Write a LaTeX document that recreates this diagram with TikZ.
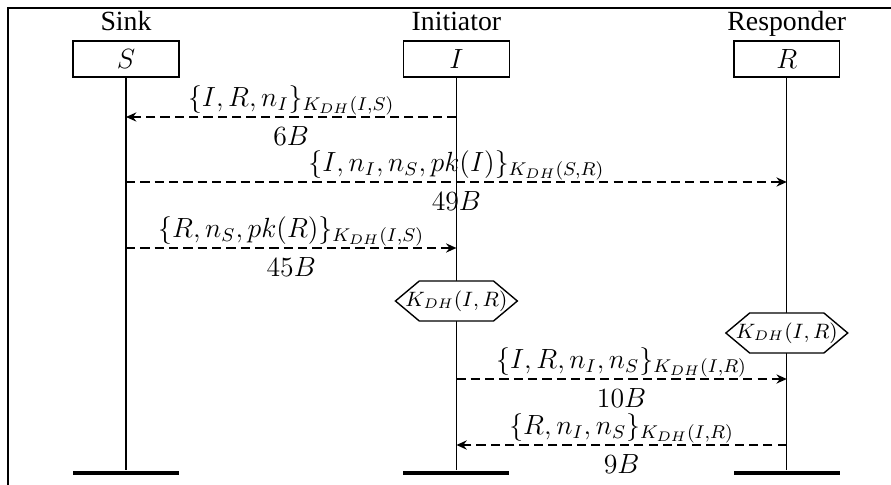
\documentclass[tikz,border=0pt]{standalone}
\usepackage[no-math]{fontspec}
\setmainfont{Liberation Serif}
\usetikzlibrary{positioning,arrows.meta,shapes.symbols}

\begin{document}
\begin{tikzpicture}[
  x=0.0152cm, y=-0.0152cm, line width=0.6pt,
  font=\fontsize{12}{14}\selectfont,
  inst/.style={draw, minimum width=1.61cm, minimum height=0.55cm, inner sep=0pt},
  head/.style={anchor=base},
  foot/.style={fill=black, minimum width=1.61cm, minimum height=2pt, inner sep=0pt},
  life/.style={line width=0.6pt},
  msg/.style={dashed, dash pattern=on 4pt off 2.2pt, -{Stealth[length=4.5pt,width=4pt,inset=1.5pt]}},
  above label/.style={above, inner sep=0.5pt},
  below label/.style={below, inner sep=4pt},
  cond/.style={signal, signal to=west and east, signal pointer angle=80, draw, fill=white,
    inner xsep=-6pt, minimum height=0.608cm, font=\fontsize{8.8}{10}\selectfont}
]
\useasboundingbox (0,0) rectangle (891,485);
\draw[line width=0.7pt] (891,8) -- (8,8) -- (8,485);

\node[inst] (sbox) at (126,59) {$S$};
\node[inst, right=3.39cm of sbox] (ibox) {$I$};
\node[inst, right=3.39cm of ibox] (rbox) {$R$};
\node[head] (sink) at ([yshift=4pt]sbox.north) {Sink};
\node[head] (init) at ([yshift=4pt]ibox.north) {Initiator};
\node[head] (resp) at ([yshift=4pt]rbox.north) {Responder};

\node[foot] (sfoot) at (sbox |- 0,473) {};
\node[foot] (ifoot) at (ibox |- 0,473) {};
\node[foot] (rfoot) at (rbox |- 0,473) {};
\draw[life] (sbox) -- (sfoot);
\draw[life] (ibox) -- (ifoot);
\draw[life] (rbox) -- (rfoot);

\foreach \n/\y in {1/117, 2/182, 3/248, 4/379, 5/445} {
  \coordinate (s\n) at (sbox |- 0,\y);
  \coordinate (i\n) at (ibox |- 0,\y);
  \coordinate (r\n) at (rbox |- 0,\y);
}

\draw[msg] (i1) -- node[above label] {$\{I,R,n_I\}_{K_{DH}(I,S)}$} node[below label] {$6B$} (s1);
\draw[msg] (s2) -- node[above label] {$\{I,n_I,n_S,pk(I)\}_{K_{DH}(S,R)}$} node[below label] {$49B$} (r2);
\draw[msg] (s3) -- node[above label] {$\{R,n_S,pk(R)\}_{K_{DH}(I,S)}$} node[below label] {$45B$} (i3);
\node[cond] (ikey) at (ibox |- 0,301) {$K_{DH}(I,R)$};
\node[cond] (rkey) at (rbox |- 0,333) {$K_{DH}(I,R)$};
\draw[msg] (i4) -- node[above label] {$\{I,R,n_I,n_S\}_{K_{DH}(I,R)}$} node[below label] {$10B$} (r4);
\draw[msg] (r5) -- node[above label] {$\{R,n_I,n_S\}_{K_{DH}(I,R)}$} node[below label] {$9B$} (i5);
\end{tikzpicture}
\end{document}
